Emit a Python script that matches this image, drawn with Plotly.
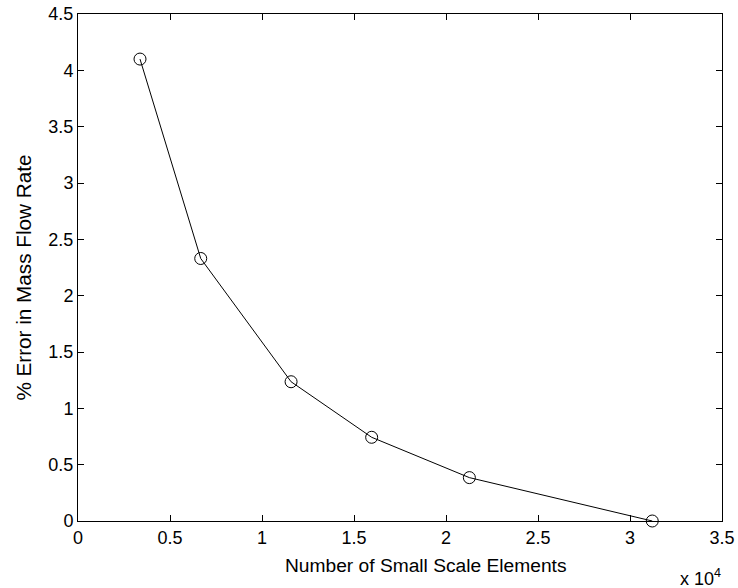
import plotly.graph_objects as go

# Data (x in units of 10^4 elements)
elements_e4 = [0.337, 0.667, 1.158, 1.596, 2.127, 3.121]
pct_error = [4.10, 2.33, 1.236, 0.743, 0.385, 0.0]

x_ticks = [0, 0.5, 1, 1.5, 2, 2.5, 3, 3.5]
x_tick_labels = ["0", "0.5", "1", "1.5", "2", "2.5", "3", "3.5"]
y_ticks = [0, 0.5, 1, 1.5, 2, 2.5, 3, 3.5, 4, 4.5]
y_tick_labels = ["0", "0.5", "1", "1.5", "2", "2.5", "3", "3.5", "4", "4.5"]

x_title = "Number of Small Scale Elements"
y_title = "% Error in Mass Flow Rate"
x_exponent = "x 10<sup>4</sup>"

font = "Arial, Liberation Sans, sans-serif"

fig = go.Figure()
fig.add_trace(go.Scatter(
    x=elements_e4, y=pct_error, mode="lines+markers",
    line=dict(color="black", width=1),
    marker=dict(symbol="circle-open", size=12, color="black", line=dict(width=1)),
    cliponaxis=False, showlegend=False,
))

axis_common = dict(
    showgrid=False, zeroline=False, showline=True, linecolor="black", linewidth=1,
    mirror="ticks", ticks="inside", ticklen=6, tickcolor="black", tickwidth=1,
    tickfont=dict(family=font, size=18, color="black"),
)
fig.update_xaxes(range=[0, 3.5], tickvals=x_ticks, ticktext=x_tick_labels, **axis_common)
fig.update_yaxes(range=[0, 4.5], tickvals=y_ticks, ticktext=y_tick_labels, **axis_common)

fig.add_annotation(x=0.540, y=-0.0868, xref="paper", yref="paper",
                   text=x_title, showarrow=False,
                   font=dict(family=font, size=19.2, color="black"),
                   xanchor="center", yanchor="middle")
fig.add_annotation(x=-0.0839, y=0.480, xref="paper", yref="paper",
                   text=y_title, showarrow=False, textangle=-90,
                   font=dict(family=font, size=20.7, color="black"),
                   xanchor="center", yanchor="middle")
fig.add_annotation(x=0.966, y=-0.112, xref="paper", yref="paper",
                   text=x_exponent, showarrow=False,
                   font=dict(family=font, size=18, color="black"),
                   xanchor="center", yanchor="middle")

fig.update_layout(
    width=738, height=588,
    margin=dict(l=78, r=16, t=14, b=67, autoexpand=False),
    paper_bgcolor="white", plot_bgcolor="white",
    font=dict(family=font, size=18, color="black"),
)

fig.write_html("out.html")
